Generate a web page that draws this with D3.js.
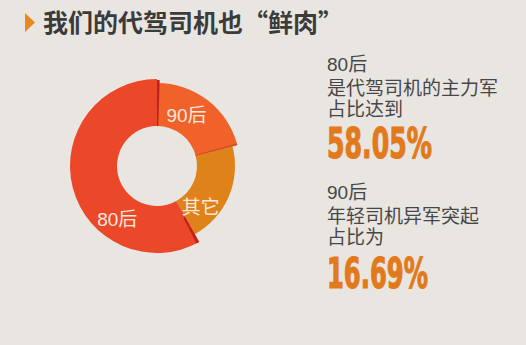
<!DOCTYPE html>
<html>
<head>
<meta charset="utf-8">
<script src="https://cdn.jsdelivr.net/npm/d3@7"></script>
<style>
  html, body { margin: 0; padding: 0; background: #e9e6e2; }
  svg { display: block; }
</style>
</head>
<body>
<svg id="chart" width="526" height="345"></svg>
<script>
// ==============================
// DATA
// ==============================

const titleText = "我们的代驾司机也“鲜肉”";

// donut slices, clockwise from 12 o'clock
const categories = ["90后", "其它", "80后"];
const shares = [20.95, 21.0, 58.05];

// callouts on the right
const calloutHeads = ["80后", "90后"];
const calloutLines = [
  ["是代驾司机的主力军", "占比达到"],
  ["年轻司机异军突起", "占比为"]
];
const calloutValues = ["58.05%", "16.69%"];

// ==============================
// STYLE
// ==============================

const sliceColors = {
  "80后": "#eb4729",
  "90后": "#f0622a",
  "其它": "#e0821a"
};

const sliceOuter = { "80后": 87, "90后": 83, "其它": 78 };
const innerR = 40;
const center = [157, 166];

// label spot: angle (deg, clockwise from top) and radius
const labelSpot = {
  "90后": [30, 59],
  "其它": [133, 60],
  "80后": [217, 66]
};

const cjk = "'Noto Sans CJK SC', 'Liberation Sans', sans-serif";
const latinFirst = "'Liberation Sans', 'Noto Sans CJK SC', sans-serif";

// ==============================
// DRAW
// ==============================

const svg = d3.select("#chart");

svg.append("rect")
  .attr("width", 526)
  .attr("height", 345)
  .attr("fill", "#e9e6e2");

// title
svg.append("polygon")
  .attr("points", "25,13 35,22.5 25,32")
  .attr("fill", "#e8891e");

svg.append("text")
  .attr("x", 43)
  .attr("y", 32)
  .attr("font-family", cjk)
  .attr("font-size", 25)
  .attr("font-weight", 700)
  .attr("fill", "#3b3b3b")
  .attr("textLength", 300)
  .attr("lengthAdjust", "spacingAndGlyphs")
  .text(titleText);

// donut
const slices = categories.map((c, i) => ({ name: c, value: shares[i] }));

const pie = d3.pie()
  .sort(null)
  .value(d => d.value)
  .startAngle(0)
  .endAngle(2 * Math.PI);

const arcs = pie(slices);

const arc = d3.arc()
  .innerRadius(innerR)
  .outerRadius(d => sliceOuter[d.data.name]);

const donut = svg.append("g")
  .attr("transform", `translate(${center[0]},${center[1]})`);

donut.selectAll("path.slice")
  .data(arcs)
  .enter()
  .append("path")
  .attr("class", "slice")
  .attr("d", arc)
  .attr("fill", d => sliceColors[d.data.name]);

// thin dark edges where slices meet
const deg = Math.PI / 180;
const byName = {};
arcs.forEach(a => { byName[a.data.name] = a; });

const edges = [
  { a0: byName["90后"].startAngle, a1: byName["90后"].startAngle + 1.8 * deg, r0: innerR, r1: 86, color: "#bd2220" },
  { a0: byName["90后"].endAngle - 1.2 * deg, a1: byName["90后"].endAngle, r0: innerR, r1: 83, color: "#cf4a1e" },
  { a0: byName["80后"].startAngle, a1: byName["80后"].startAngle + 2 * deg, r0: 58, r1: 87, color: "#c2201e" }
];

donut.selectAll("path.edge")
  .data(edges)
  .enter()
  .append("path")
  .attr("class", "edge")
  .attr("d", d => d3.arc()({
    innerRadius: d.r0,
    outerRadius: d.r1,
    startAngle: d.a0,
    endAngle: d.a1
  }))
  .attr("fill", d => d.color);

donut.selectAll("text.label")
  .data(arcs)
  .enter()
  .append("text")
  .attr("class", "label")
  .attr("x", d => labelSpot[d.data.name][1] * Math.sin(labelSpot[d.data.name][0] * deg))
  .attr("y", d => -labelSpot[d.data.name][1] * Math.cos(labelSpot[d.data.name][0] * deg))
  .attr("dy", "0.36em")
  .attr("text-anchor", "middle")
  .attr("font-family", latinFirst)
  .attr("font-size", 19)
  .attr("fill", "#fbe8dc")
  .text(d => d.data.name);

// callouts
const callouts = svg.selectAll("g.callout")
  .data(calloutHeads)
  .enter()
  .append("g")
  .attr("class", "callout")
  .attr("transform", (d, i) => `translate(327,${i === 0 ? 0 : 128})`);

callouts.append("text")
  .attr("y", 71)
  .attr("font-family", latinFirst)
  .attr("font-size", 19)
  .attr("fill", "#474747")
  .text(d => d);

callouts.each(function(d, i) {
  d3.select(this).selectAll("text.line")
    .data(calloutLines[i])
    .enter()
    .append("text")
    .attr("class", "line")
    .attr("y", (t, j) => 95 + j * 21)
    .attr("font-family", latinFirst)
    .attr("font-size", 19)
    .attr("fill", "#474747")
    .text(t => t);
});

callouts.append("text")
  .attr("y", (d, i) => i === 0 ? 158 : 160)
  .attr("font-family", "'Liberation Sans Narrow', 'DejaVu Sans Condensed', 'Liberation Sans', sans-serif")
  .attr("font-size", 42)
  .attr("font-weight", 700)
  .attr("fill", "#e27a1c")
  .attr("stroke", "#e27a1c")
  .attr("stroke-width", 1.2)
  .attr("textLength", (d, i) => i === 0 ? 105 : 101)
  .attr("lengthAdjust", "spacingAndGlyphs")
  .text((d, i) => calloutValues[i]);
</script>
</body>
</html>
